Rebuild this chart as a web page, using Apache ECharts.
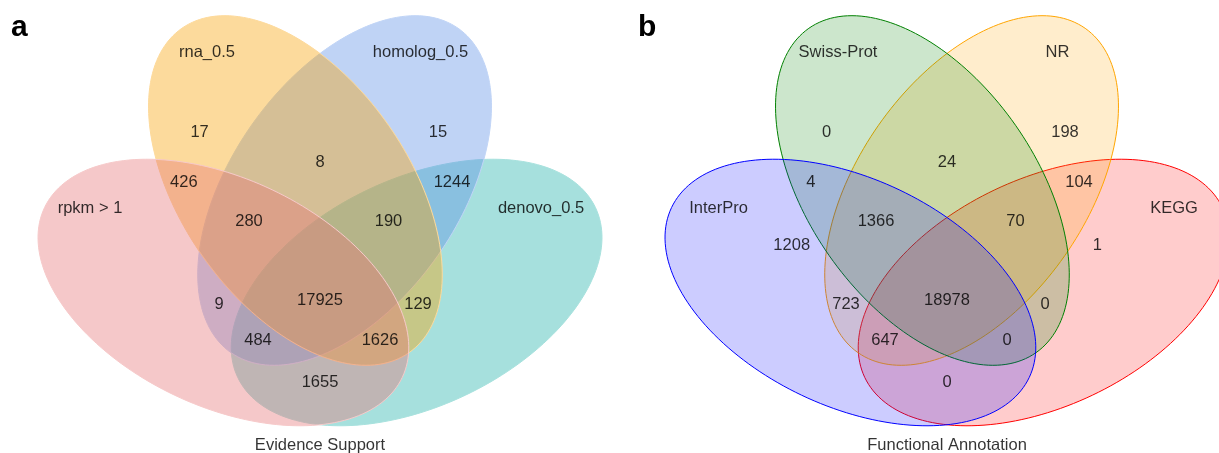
<!DOCTYPE html>
<html>
<head>
<meta charset="utf-8">
<title>Venn</title>
<script src="https://cdn.jsdelivr.net/npm/echarts@6/dist/echarts.min.js"></script>
<style>
  html, body { margin: 0; padding: 0; background: #fff; }
  #chart { width: 1219px; height: 453px; }
</style>
</head>
<body>
<div id="chart"></div>
<script>
// set names, order: lower-left, upper-left, upper-right, lower-right
var setsA = ["rpkm > 1", "rna_0.5", "homolog_0.5", "denovo_0.5"];
var setsB = ["InterPro", "Swiss-Prot", "NR", "KEGG"];

// regions = which sets overlap (1..4 as above)
var regions = ["2", "3", "23", "12", "34", "123", "234", "1", "4", "13", "1234", "24", "134", "124", "14"];
var countsA = [17, 15, 8, 426, 1244, 280, 190, null, null, 9, 17925, 129, 484, 1626, 1655];
var countsB = [0, 198, 24, 4, 104, 1366, 70, 1208, 1, 723, 18978, 0, 647, 0, 0];

var titleA = "Evidence Support";
var titleB = "Functional Annotation";

// ---- layout (pixels) ----
var panelX = [320, 947];
// ellipse: dx from panel axis, cy, semi-major, semi-minor, angle(deg)
var ellipseShape = [
  [-96.6, 292.5, 198, 113.7, 25.4],
  [-24.6, 190.5, 198, 113.7, 55],
  [24.6, 190.5, 198, 113.7, -55],
  [96.6, 292.5, 198, 113.7, -25.4]
];
// last set is painted first
var drawOrder = [3, 2, 1, 0];
var regionPos = {
  "2": [-120.4, 132], "3": [118, 132], "23": [0, 162],
  "12": [-136.2, 182], "34": [132, 182],
  "123": [-71, 221], "234": [68.5, 221],
  "1": [-155.3, 245], "4": [150.4, 245],
  "13": [-101, 304], "1234": [0, 300], "24": [98, 304],
  "134": [-62, 340], "124": [60, 340], "14": [0, 382]
};
var setLabelPosA = [[90, 208], [207, 52], [420.5, 52], [541, 208]];
var setLabelPosB = [[718.6, 208], [838, 52], [1057.4, 52], [1174, 208]];

var fillA = ["rgba(230,117,120,0.4)", "rgba(248,162,8,0.4)", "rgba(95,145,230,0.4)", "rgba(32,178,170,0.4)"];
var strokeA = ["#f6c9c9", "#fdd99a", "#c0d4f6", "#a7e1dd"];
var fillB = ["rgba(0,0,255,0.2)", "rgba(0,128,0,0.2)", "rgba(255,165,0,0.2)", "rgba(255,0,0,0.2)"];
var strokeB = ["#0000ff", "#008000", "#ffa500", "#ff0000"];

var FONT = "'Liberation Sans', Arial, Helvetica, sans-serif";

var chart = echarts.init(document.getElementById("chart"));

// ellipses of both panels
var ellipseData = [];
panelX.forEach(function (px, p) {
  drawOrder.forEach(function (i) {
    var e = ellipseShape[i];
    ellipseData.push([px + e[0], e[1], e[2], e[3], e[4], p, i]);
  });
});

// number + name labels
var labelData = [];
[countsA, countsB].forEach(function (counts, p) {
  regions.forEach(function (r, i) {
    if (counts[i] === null) return;
    labelData.push({ value: [panelX[p] + regionPos[r][0], regionPos[r][1]], name: String(counts[i]) });
  });
});
setsA.forEach(function (s, i) {
  labelData.push({ value: setLabelPosA[i], name: s });
});
setsB.forEach(function (s, i) {
  labelData.push({ value: setLabelPosB[i], name: s });
});
labelData.push({ value: [panelX[0], 445], name: titleA });
labelData.push({ value: [panelX[1], 445], name: titleB });

function renderEllipse(params, api) {
  var cx = api.value(0), cy = api.value(1);
  var a = api.value(2), b = api.value(3);
  var th = api.value(4) * Math.PI / 180;
  var p = api.value(5), k = api.value(6);
  var pts = [];
  for (var n = 0; n < 180; n++) {
    var t = n / 180 * Math.PI * 2;
    var x = cx + a * Math.cos(t) * Math.cos(th) - b * Math.sin(t) * Math.sin(th);
    var y = cy + a * Math.cos(t) * Math.sin(th) + b * Math.sin(t) * Math.cos(th);
    pts.push(api.coord([x, y]));
  }
  return {
    type: "polygon",
    shape: { points: pts },
    style: {
      fill: p === 0 ? fillA[k] : fillB[k],
      stroke: p === 0 ? strokeA[k] : strokeB[k],
      lineWidth: 1
    }
  };
}

chart.setOption({
  animation: false,
  grid: { left: 0, right: 0, top: 0, bottom: 0 },
  xAxis: { type: "value", min: 0, max: 1219, show: false },
  yAxis: { type: "value", min: 0, max: 453, inverse: true, show: false },
  graphic: [
    { type: "text", x: 11, y: 28, style: { text: "a", fontSize: 30, fontWeight: "bold", fontFamily: FONT, fill: "#000", verticalAlign: "middle" } },
    { type: "text", x: 638, y: 28, style: { text: "b", fontSize: 30, fontWeight: "bold", fontFamily: FONT, fill: "#000", verticalAlign: "middle" } }
  ],
  series: [
    {
      type: "custom",
      silent: true,
      renderItem: renderEllipse,
      data: ellipseData
    },
    {
      type: "scatter",
      silent: true,
      symbolSize: 0,
      data: labelData,
      label: {
        show: true,
        position: "inside",
        align: "center",
        verticalAlign: "middle",
        formatter: "{b}",
        color: "#000",
        fontSize: 16.5,
        fontFamily: FONT
      }
    }
  ]
});
</script>
</body>
</html>
